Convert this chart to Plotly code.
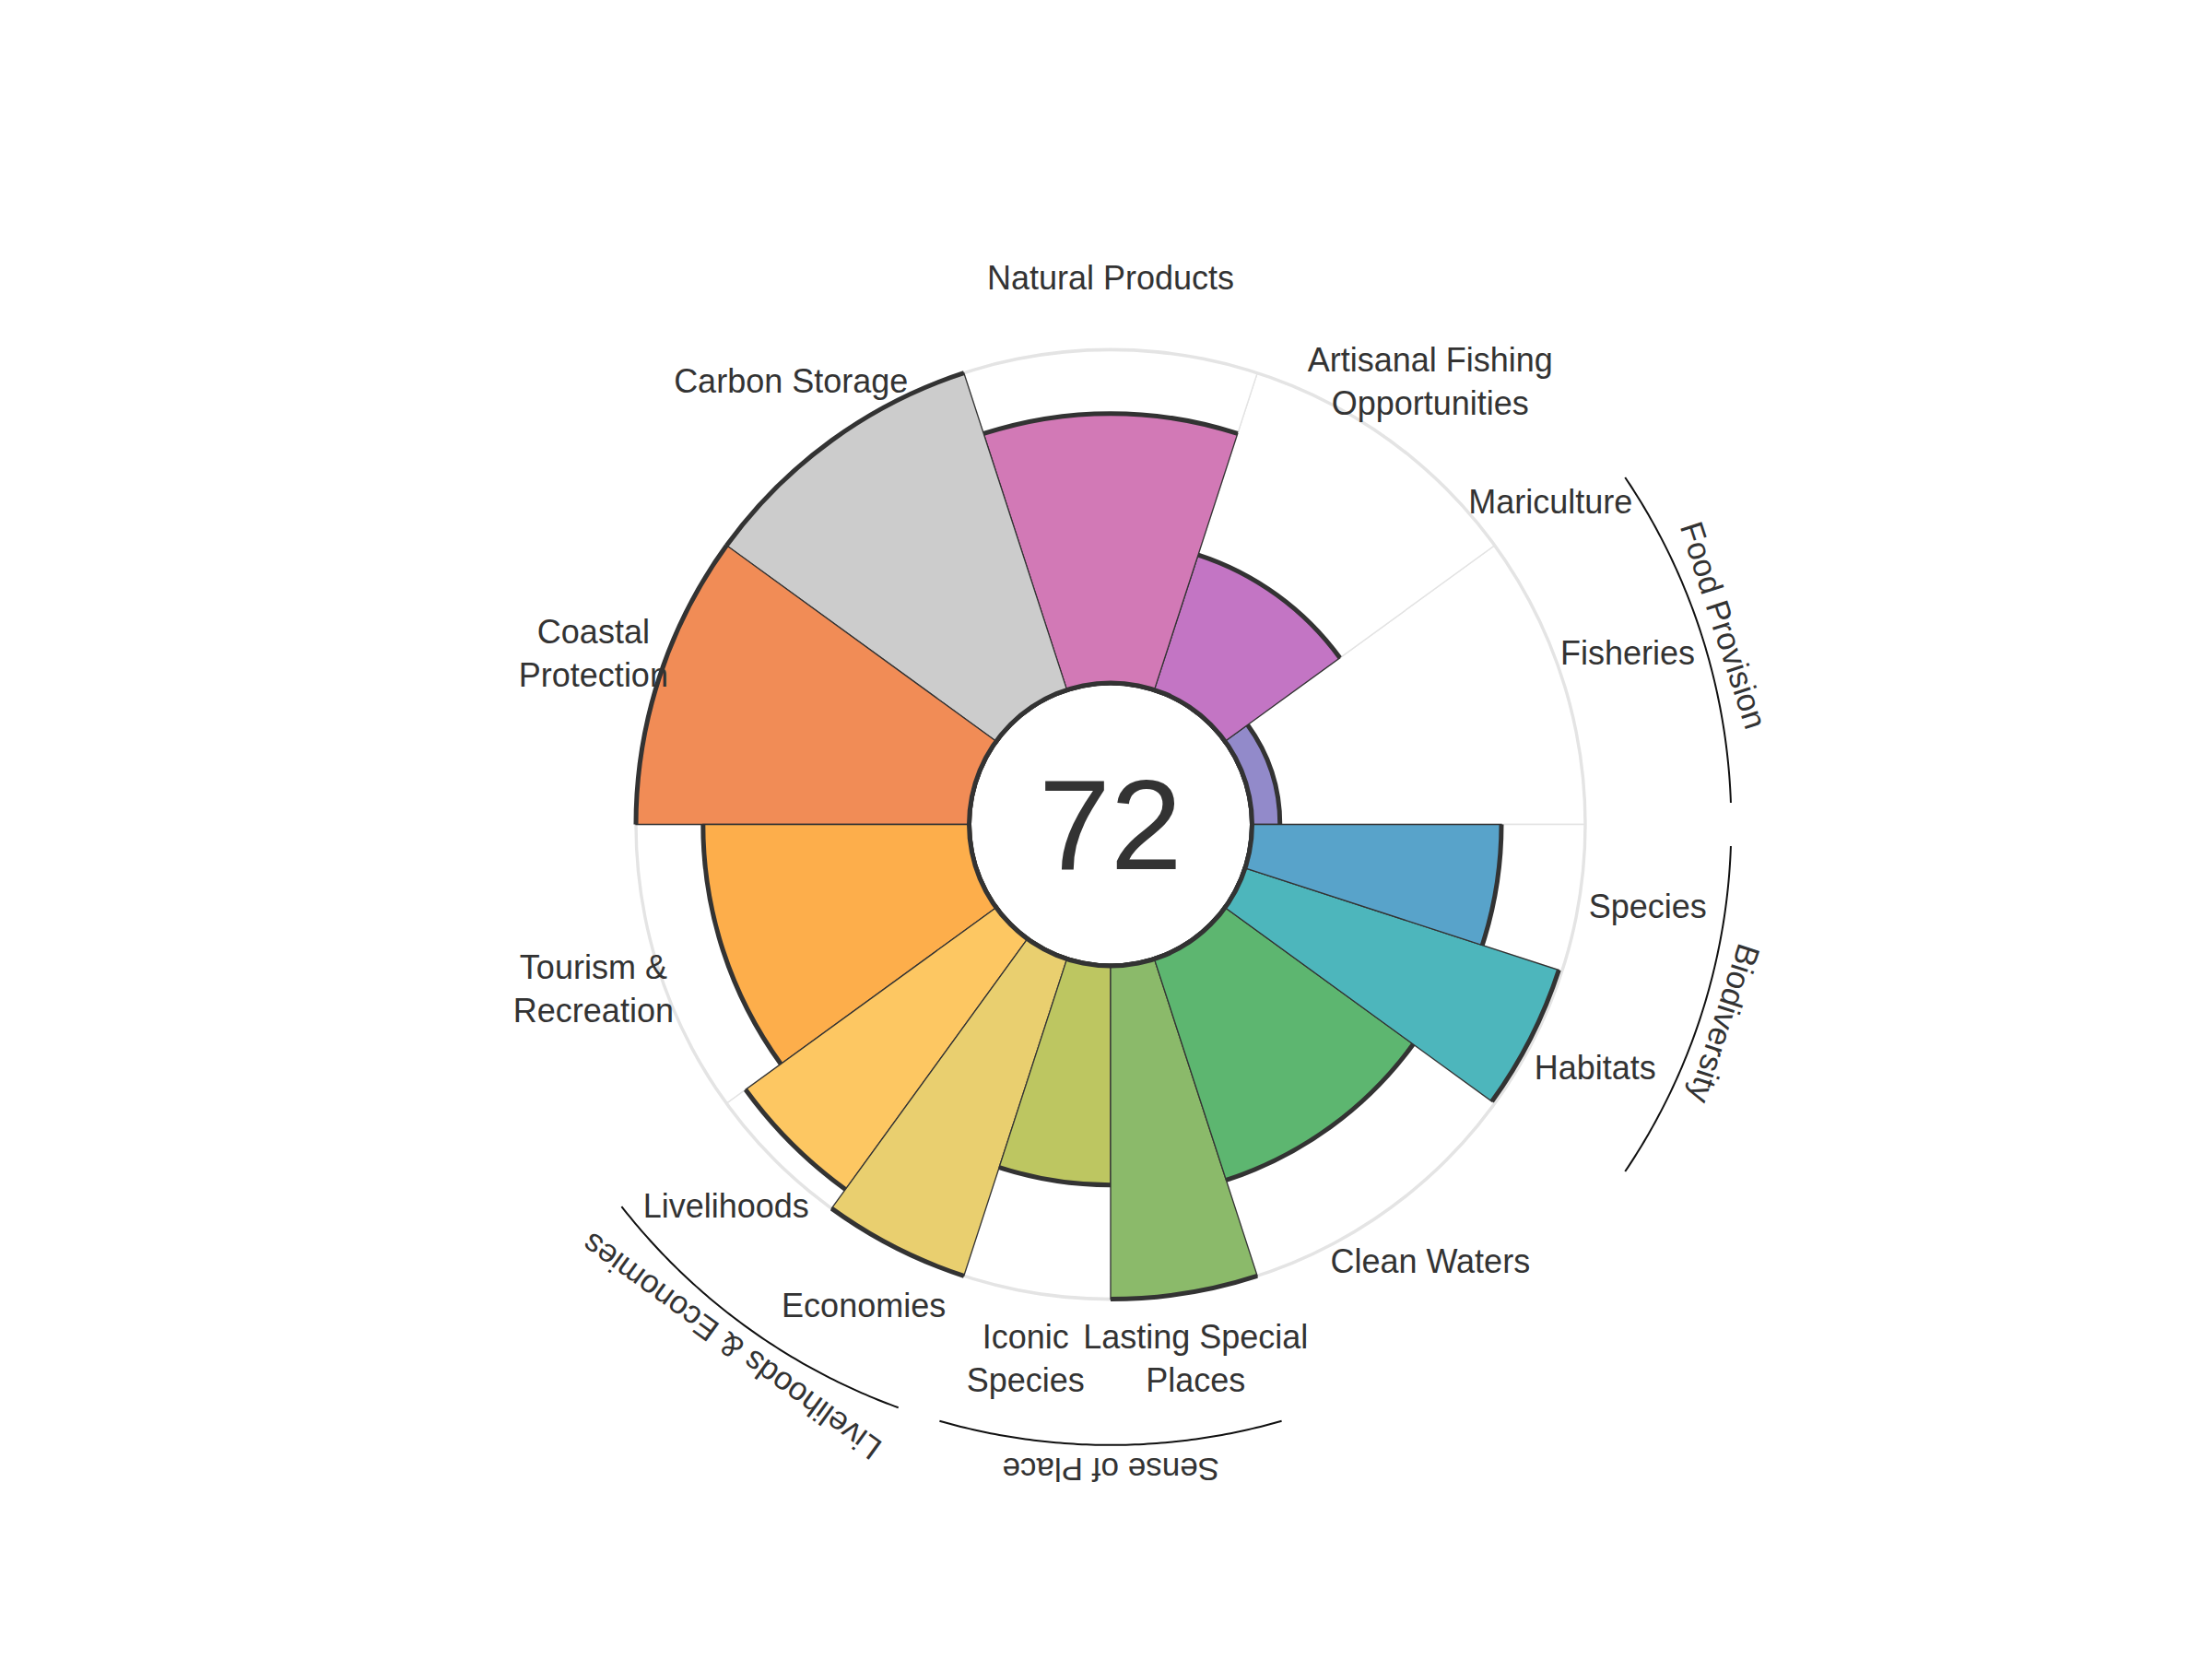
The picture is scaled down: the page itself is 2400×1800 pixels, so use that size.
import numpy as np
import plotly.graph_objects as go

# ---------------- data ----------------
goals = ["Fisheries", "Mariculture", "Artisanal Fishing Opportunities", "Natural Products",
         "Carbon Storage", "Coastal Protection", "Tourism & Recreation", "Livelihoods",
         "Economies", "Iconic Species", "Lasting Special Places", "Clean Waters",
         "Habitats", "Species"]
labels = ["Fisheries", "Mariculture", "Artisanal Fishing<br>Opportunities", "Natural Products",
          "Carbon Storage", "Coastal<br>Protection", "Tourism &<br>Recreation", "Livelihoods",
          "Economies", "Iconic<br>Species", "Lasting Special<br>Places", "Clean Waters",
          "Habitats", "Species"]
weights = [36, 0, 36, 36, 36, 36, 36, 18, 18, 18, 18, 36, 18, 18]   # angular share (deg)
scores = [9, None, 43, 81, 100, 100, 80, 93, 100, 66, 100, 70, 99, 75]
colors = ["#928aca", "#a0a0d0", "#c375c4", "#d279b6", "#cccccc", "#f18c56", "#fdae4b",
          "#fdc762", "#e9cf6f", "#bdc661", "#8bba6a", "#5db670", "#4db6bc", "#58a3ca"]
groups = ["Food Provision", "Biodiversity", "Sense of Place", "Livelihoods & Economies"]
group_members = [["Fisheries", "Mariculture"], ["Habitats", "Species"],
                 ["Iconic Species", "Lasting Special Places"], ["Livelihoods", "Economies"]]
index_score = 72

# ---------------- geometry ----------------
W, H = 2400, 1800
CX, CY = 1205, 905.5          # centre in px (from bottom)
R_HOLE, R_100 = 151, 515       # px radius of score 0 and score 100
RMAX = 150
unit = (R_100 - R_HOLE) / 100
R_TOT = R_HOLE + unit * RMAX
hole = R_HOLE / R_TOT

starts = np.concatenate([[0], np.cumsum(weights)[:-1]])
centers = starts + np.array(weights) / 2.0

font = "Liberation Sans, Arial, sans-serif"
txtcol = "#333333"

fig = go.Figure()

# background petals (white with light grey dividers)
bg_idx = [i for i, w in enumerate(weights) if w > 0]
fig.add_trace(go.Barpolar(
    r=[100] * len(bg_idx), theta=[centers[i] for i in bg_idx], width=[weights[i] for i in bg_idx],
    marker=dict(color="white", line=dict(color="#e3e3e3", width=1.4)),
    hoverinfo="skip"))

# outer grey ring at 100
ring_t = 3.4 / unit
fig.add_trace(go.Barpolar(
    r=[ring_t], base=[100 - ring_t / 2], theta=[180], width=[360],
    marker=dict(color="#e4e4e4", line=dict(width=0)), hoverinfo="skip"))

# petals
p_idx = [i for i, s in enumerate(scores) if s is not None and weights[i] > 0]
fig.add_trace(go.Barpolar(
    r=[scores[i] for i in p_idx], theta=[centers[i] for i in p_idx],
    width=[weights[i] for i in p_idx],
    marker=dict(color=[colors[i] for i in p_idx], line=dict(color="#333333", width=1.3)),
    hovertext=[goals[i] for i in p_idx], hoverinfo="text+r"))

# thick outer edge of each petal
edge_t = 5.0 / unit
fig.add_trace(go.Barpolar(
    r=[edge_t] * len(p_idx), base=[scores[i] - edge_t / 2 for i in p_idx],
    theta=[centers[i] for i in p_idx], width=[weights[i] for i in p_idx],
    marker=dict(color="#333333", line=dict(width=0)), hoverinfo="skip"))

# hole border
hole_t = 5.0 / unit
fig.add_trace(go.Barpolar(
    r=[hole_t], base=[0], theta=[180], width=[360],
    marker=dict(color="#333333", line=dict(width=0)), hoverinfo="skip"))
circ = np.linspace(0, 360, 721)
fig.add_trace(go.Scatterpolar(
    r=[0] * len(circ), theta=circ, mode="lines", cliponaxis=False,
    line=dict(color="#333333", width=3), hoverinfo="skip"))

# goal labels
fig.add_trace(go.Scatterpolar(
    r=[120.6] * len(labels), theta=centers, mode="text", text=labels,
    textposition="middle center", cliponaxis=False,
    textfont=dict(family=font, size=36, color=txtcol), hoverinfo="skip"))

# group arcs
annotations = []
for gname, members in zip(groups, group_members):
    idx = [goals.index(m) for m in members]
    g0 = min(starts[i] for i in idx)
    g1 = max(starts[i] + weights[i] for i in idx)
    th = np.linspace(g0 + 2, g1 - 2, 80)
    fig.add_trace(go.Scatterpolar(
        r=[143.5] * len(th), theta=th, mode="lines", cliponaxis=False,
        line=dict(color="#111111", width=2), hoverinfo="skip"))
    gc = (g0 + g1) / 2.0
    rp = 700
    ang = 90 - gc
    while ang <= -180:
        ang += 360
    while ang > 180:
        ang -= 360
    annotations.append(dict(
        x=(CX + rp * np.cos(np.radians(gc))) / W, y=(CY + rp * np.sin(np.radians(gc))) / H,
        xref="paper", yref="paper", text=gname, showarrow=False, textangle=ang,
        xanchor="center", yanchor="middle", font=dict(family=font, size=35, color=txtcol)))

# centre score
annotations.append(dict(
    x=CX / W, y=CY / H, xref="paper", yref="paper", text=str(index_score), showarrow=False,
    xanchor="center", yanchor="middle", font=dict(family=font, size=140, color=txtcol)))

fig.update_layout(
    width=W, height=H, margin=dict(l=0, r=0, t=0, b=0),
    paper_bgcolor="white", plot_bgcolor="white", showlegend=False,
    polar=dict(
        domain=dict(x=[(CX - R_TOT) / W, (CX + R_TOT) / W], y=[(CY - R_TOT) / H, (CY + R_TOT) / H]),
        hole=hole, bgcolor="white", barmode="overlay",
        radialaxis=dict(visible=False, range=[0, RMAX]),
        angularaxis=dict(visible=False, direction="counterclockwise", rotation=0,
                         thetaunit="degrees", showgrid=False)),
    annotations=annotations)

fig.write_html("out.html")
